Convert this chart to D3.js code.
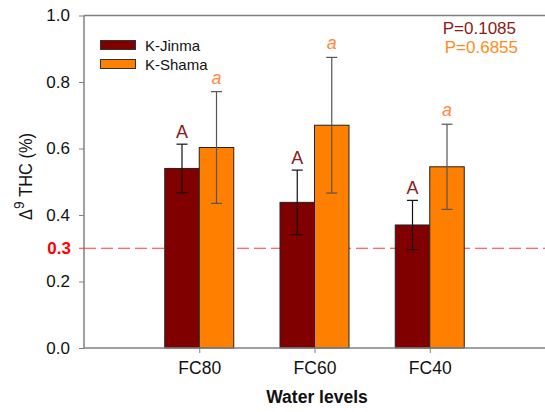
<!DOCTYPE html>
<html><head><meta charset="utf-8">
<script src="https://cdn.jsdelivr.net/npm/d3@7"></script>
<style>body{margin:0;background:#fff}svg{display:block;font-family:Arial,"Liberation Sans",sans-serif}</style>
</head><body><svg id="c" width="545" height="412"></svg>
<script>
const categories = ["FC80","FC60","FC40"];
const seriesNames = ["K-Jinma","K-Shama"];
const jinma = [0.540, 0.438, 0.370];
const jinmaErr = [0.073, 0.097, 0.074];
const shama = [0.603, 0.670, 0.545];
const shamaErr = [0.168, 0.204, 0.128];
const jinmaLetters = ["A","A","A"];
const shamaLetters = ["a","a","a"];
const yTicks = [0.0,0.2,0.4,0.6,0.8,1.0];
const threshold = 0.3;
const pValues = ["P=0.1085","P=0.6855"];

const colors = ["#800000","#FF8000"];
const letterColors = ["#8B1A1A","#FF8A3D"];
const pColors = ["#8B1A1A","#FF8C1A"];
const svg = d3.select("#c");
const L=84, R=545, T=15.5, B=348;
const y = d3.scaleLinear().domain([0,1]).range([B,T]);
const xc = d3.scalePoint().domain(["",...categories,"  "]).range([L,R]);
const bw = 34.5;

// top border
svg.append("line").attr("x1",L).attr("x2",R).attr("y1",T).attr("y2",T).attr("stroke","#808080").attr("stroke-width",1.5);

// y axis
const ya = svg.append("g").attr("transform",`translate(${L},0)`)
  .call(d3.axisLeft(y).tickValues(yTicks).tickFormat(d3.format(".1f")).tickSize(5).tickPadding(9));
ya.select(".domain").attr("stroke","#808080").attr("stroke-width",1.5).attr("d",`M0,${B}V${T}`);
ya.selectAll(".tick line").attr("stroke","#808080");
ya.selectAll(".tick text").attr("font-size",17).attr("fill","#111").attr("font-family","Arial,'Liberation Sans',sans-serif");

// threshold
svg.append("line").attr("x1",L).attr("x2",R).attr("y1",y(threshold)).attr("y2",y(threshold))
  .attr("stroke","#FF3A3A").attr("stroke-width",1.2).attr("stroke-dasharray","12,5");
svg.append("line").attr("x1",L-5).attr("x2",L).attr("y1",y(threshold)).attr("y2",y(threshold)).attr("stroke","#FF3030");
svg.append("text").attr("x",L-13).attr("y",y(threshold)+6).attr("text-anchor","end")
  .attr("font-size",17).attr("font-weight","bold").attr("fill","#FF0000").text(threshold.toFixed(1));

// bars
const series = [{v:jinma,e:jinmaErr,l:jinmaLetters,off:-bw},{v:shama,e:shamaErr,l:shamaLetters,off:0}];
series.forEach((s,si)=>{
  const g = svg.append("g");
  categories.forEach((c,i)=>{
    const x0 = xc(c)+s.off;
    g.append("rect").attr("x",x0).attr("y",y(s.v[i])).attr("width",bw).attr("height",B-y(s.v[i]))
      .attr("fill",colors[si]).attr("stroke","#222").attr("stroke-width",1);
    const cx = x0+bw/2, eh=y(s.v[i]+s.e[i]), el=y(s.v[i]-s.e[i]);
    const ec = si===0?"#111":"#555";
    g.append("line").attr("x1",cx).attr("x2",cx).attr("y1",eh).attr("y2",el).attr("stroke",ec).attr("stroke-width",1.2);
    [eh,el].forEach(yy=>g.append("line").attr("x1",cx-5.5).attr("x2",cx+5.5).attr("y1",yy).attr("y2",yy).attr("stroke",ec).attr("stroke-width",1.2));
    g.append("text").attr("x",cx).attr("y",eh-(si===0?6.5:8)).attr("text-anchor","middle").attr("font-size",18)
      .attr("font-style",si===1?"italic":"normal").attr("fill",letterColors[si]).text(s.l[i]);
  });
});

// x axis
const xa = svg.append("g").attr("transform",`translate(0,${B})`)
  .call(d3.axisBottom(xc).tickValues(categories).tickSize(5).tickPadding(9));
xa.select(".domain").attr("stroke","#808080").attr("stroke-width",1.5).attr("d",`M${L},0H${R}`);
xa.selectAll(".tick line").attr("stroke","#808080");
xa.selectAll(".tick text").attr("font-size",17.5).attr("fill","#111").attr("font-family","Arial,'Liberation Sans',sans-serif");

// axis titles
svg.append("text").attr("x",317).attr("y",403).attr("text-anchor","middle")
  .attr("font-size",17.5).attr("font-weight","bold").attr("fill","#111").text("Water levels");
const ytG = svg.append("g").attr("transform",`translate(32,176.5) rotate(-90)`);
const ytS = ytG.append("g");
const yt = ytS.append("text").attr("text-anchor","middle").attr("font-size",18).attr("fill","#111");
yt.append("tspan").text("Δ");
yt.append("tspan").attr("dy",-8).attr("font-size",15).text("9");
yt.append("tspan").attr("dy",8).text(" THC (%)");
const bb = yt.node().getBBox();
const sx = 87/bb.width;
ytS.attr("transform",`scale(${sx},1)`);

// legend
seriesNames.forEach((n,i)=>{
  svg.append("rect").attr("x",100.5).attr("y",40.5+i*19).attr("width",35).attr("height",9)
    .attr("fill",colors[i]).attr("stroke","#333").attr("stroke-width",1);
  svg.append("text").attr("x",145).attr("y",50.5+i*19).attr("font-size",15).attr("fill","#111").text(n);
});

// p values
svg.append("text").attr("x",516).attr("y",34).attr("text-anchor","end").attr("font-size",17).attr("fill",pColors[0]).text(pValues[0]);
svg.append("text").attr("x",518).attr("y",53).attr("text-anchor","end").attr("font-size",17).attr("fill",pColors[1]).text(pValues[1]);
</script></body></html>
